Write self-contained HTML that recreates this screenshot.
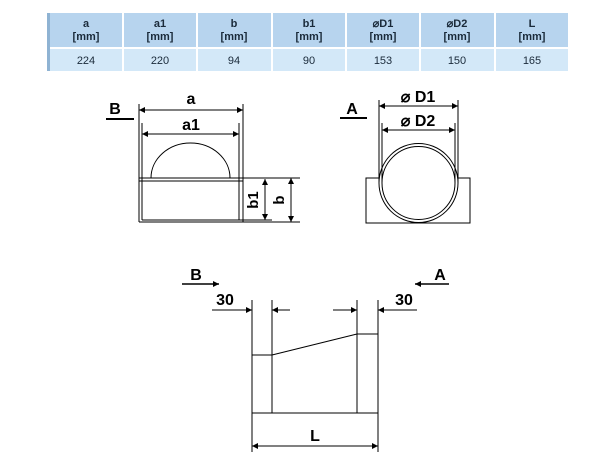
<!DOCTYPE html>
<html><head><style>
body{margin:0;background:#fff;}
svg{display:block;}
</style></head><body>
<svg width="614" height="466" viewBox="0 0 614 466" xmlns="http://www.w3.org/2000/svg">
<defs>
<marker id="ar" viewBox="0 0 10 10" refX="10" refY="5" markerWidth="9" markerHeight="6" orient="auto-start-reverse" markerUnits="userSpaceOnUse"><path d="M0,0 L10,5 L0,10 z" fill="#000"/></marker>
</defs>
<g font-family="Liberation Sans Narrow, Liberation Sans, sans-serif" font-size="11" text-anchor="middle" fill="#1a2a3a">
<rect x="47" y="13" width="521" height="34" fill="#b7d4ee"/>
<rect x="47" y="49" width="521" height="22" fill="#d3e8f8"/>
<rect x="47" y="13" width="3" height="58" fill="#8fb3d3"/>
<g stroke="#fff" stroke-width="2">
<line x1="123" y1="13" x2="123" y2="71"/><line x1="197" y1="13" x2="197" y2="71"/><line x1="272" y1="13" x2="272" y2="71"/><line x1="346" y1="13" x2="346" y2="71"/><line x1="420" y1="13" x2="420" y2="71"/><line x1="495" y1="13" x2="495" y2="71"/>
</g>
<g font-weight="bold">
<text x="86" y="27">a</text><text x="86" y="40">[mm]</text>
<text x="160" y="27">a1</text><text x="160" y="40">[mm]</text>
<text x="234" y="27">b</text><text x="234" y="40">[mm]</text>
<text x="309" y="27">b1</text><text x="309" y="40">[mm]</text>
<text x="383" y="27">⌀D1</text><text x="383" y="40">[mm]</text>
<text x="457" y="27">⌀D2</text><text x="457" y="40">[mm]</text>
<text x="532" y="27">L</text><text x="532" y="40">[mm]</text>
</g>
<text x="86" y="64">224</text><text x="160" y="64">220</text><text x="234" y="64">94</text><text x="309" y="64">90</text><text x="383" y="64">153</text><text x="457" y="64">150</text><text x="532" y="64">165</text>
</g>

<g stroke="#000" stroke-width="1" fill="none">
<line x1="139" y1="104" x2="139" y2="222"/>
<line x1="243" y1="104" x2="243" y2="222"/>
<line x1="142" y1="123" x2="142" y2="220"/>
<line x1="239" y1="123" x2="239" y2="220"/>
<line x1="139" y1="178" x2="300" y2="178"/>
<line x1="139" y1="181" x2="243" y2="181"/>
<line x1="142" y1="220" x2="272" y2="220"/>
<line x1="139" y1="222" x2="300" y2="222"/>
<path d="M151,178 A39.5,35 0 0 1 230,178"/>
<line x1="139" y1="110" x2="243" y2="110" marker-start="url(#ar)" marker-end="url(#ar)"/>
<line x1="142" y1="134" x2="239" y2="134" marker-start="url(#ar)" marker-end="url(#ar)"/>
<line x1="265" y1="179" x2="265" y2="220" marker-start="url(#ar)" marker-end="url(#ar)"/>
<line x1="291" y1="178" x2="291" y2="222" marker-start="url(#ar)" marker-end="url(#ar)"/>
<line x1="106" y1="119" x2="134" y2="119" stroke-width="2"/>
<rect x="366" y="178" width="104" height="45"/>
<circle cx="418.5" cy="183" r="39.5" fill="#fff"/>
<circle cx="418.5" cy="183" r="36.5"/>
<line x1="379" y1="100" x2="379" y2="183"/>
<line x1="458" y1="100" x2="458" y2="183"/>
<line x1="382" y1="123" x2="382" y2="183"/>
<line x1="455" y1="123" x2="455" y2="183"/>
<line x1="379" y1="106" x2="458" y2="106" marker-start="url(#ar)" marker-end="url(#ar)"/>
<line x1="382" y1="130" x2="455" y2="130" marker-start="url(#ar)" marker-end="url(#ar)"/>
<line x1="340" y1="118" x2="367" y2="118" stroke-width="2"/>
<line x1="252" y1="300" x2="252" y2="452"/>
<line x1="272" y1="300" x2="272" y2="413"/>
<line x1="357" y1="300" x2="357" y2="413"/>
<line x1="378" y1="300" x2="378" y2="452"/>
<line x1="252" y1="355" x2="272" y2="355"/>
<line x1="357" y1="334" x2="378" y2="334"/>
<line x1="272" y1="355" x2="357" y2="334"/>
<line x1="252" y1="413" x2="378" y2="413"/>
<line x1="252" y1="446" x2="378" y2="446" marker-start="url(#ar)" marker-end="url(#ar)"/>
<line x1="212" y1="310" x2="252" y2="310" marker-end="url(#ar)"/>
<line x1="290" y1="310" x2="272" y2="310" marker-end="url(#ar)"/>
<line x1="333" y1="310" x2="357" y2="310" marker-end="url(#ar)"/>
<line x1="417" y1="310" x2="378" y2="310" marker-end="url(#ar)"/>
<line x1="182" y1="284" x2="219" y2="284" stroke-width="1.5" marker-end="url(#ar)"/>
<line x1="449" y1="284" x2="415" y2="284" stroke-width="1.5" marker-end="url(#ar)"/>
</g>
<g font-family="Liberation Sans, sans-serif" font-weight="bold" font-size="16" text-anchor="middle" fill="#000">
<text x="191" y="104">a</text>
<text x="191" y="130">a1</text>
<text x="115" y="114">B</text>
<text transform="translate(258,200) rotate(-90)" font-size="15">b1</text>
<text transform="translate(284,200) rotate(-90)" font-size="15">b</text>
<text x="352" y="114">A</text>
<text x="418" y="102">⌀ D1</text>
<text x="418" y="126">⌀ D2</text>
<text x="196" y="280">B</text>
<text x="440" y="280">A</text>
<text x="225" y="305">30</text>
<text x="404" y="305">30</text>
<text x="315" y="441">L</text>
</g>
</svg>
</body></html>
